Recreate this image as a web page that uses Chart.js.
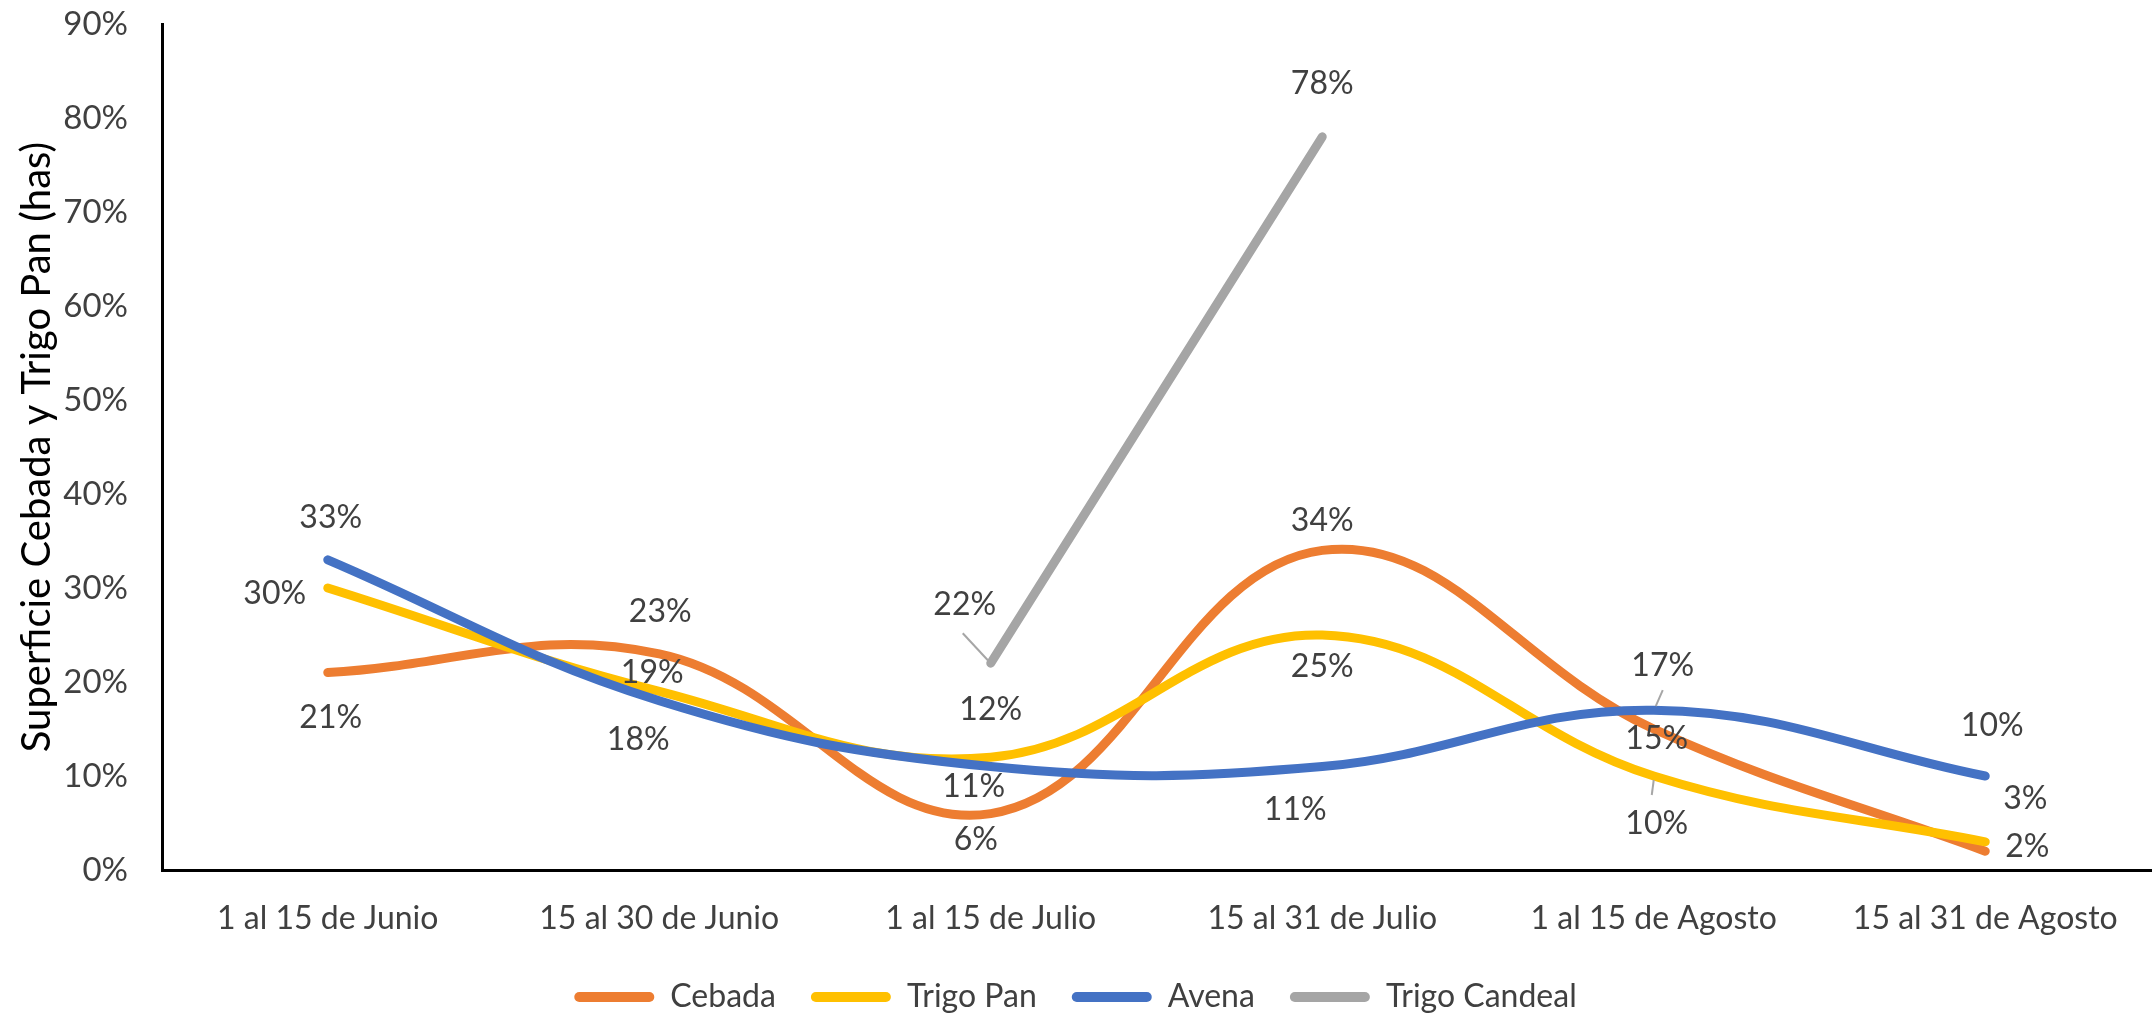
<!DOCTYPE html>
<html>
<head>
<meta charset="utf-8">
<script src="https://cdn.jsdelivr.net/npm/chart.js@4.4.0/dist/chart.umd.min.js"></script>
<style>
  html, body { margin: 0; padding: 0; background: #fff; }
  canvas { display: block; }
</style>
</head>
<body>
<canvas id="chart" width="2153" height="1013"></canvas>
<script>
// ---- data ----
const categories = ['1 al 15 de Junio', '15 al 30 de Junio', '1 al 15 de Julio',
                    '15 al 31 de Julio', '1 al 15 de Agosto', '15 al 31 de Agosto'];
const cebada       = [21, 23, 6, 34, 15, 2];
const trigoPan     = [30, 19, 12, 25, 10, 3];
const avena        = [33, 18, 11, 11, 17, 10];
const trigoCandeal = [null, null, 22, 78, null, null];

// where each value label sits, in px from its point (same order as datasets)
const labelOffsets = [
    [[3, 45], [1, -42], [-15, 26], [0, -30], [3, 10], [42, -5]],
    [[-53, 6], [-7, -19], [0, -48], [0, 32], [3, 48], [40, -43]],
    [[3, -42], [-21, 39], [-17, 20], [-27, 43], [9, -45], [7, -50]],
    [null, null, [-26, -59], [0, -53], null, null]
];
// little leader lines: dataset, index, from dx,dy to dx,dy
const leaderLines = [
    [3, 2, -28, -30, -2, -2],
    [2, 4, 9, -20, 2, -4],
    [1, 4, -2, 19, 0, 4]
];

const FONT = 'Lato';
const TEXT = '#404040';

const valueLabels = {
    id: 'valueLabels',
    afterDatasetsDraw(chart) {
        const ctx = chart.ctx;
        ctx.save();
        ctx.strokeStyle = '#a6a6a6';
        ctx.lineWidth = 2;
        leaderLines.forEach(([ds, i, x0, y0, x1, y1]) => {
            const pt = chart.getDatasetMeta(ds).data[i];
            ctx.beginPath();
            ctx.moveTo(pt.x + x0, pt.y + y0);
            ctx.lineTo(pt.x + x1, pt.y + y1);
            ctx.stroke();
        });
        ctx.font = '32px ' + FONT;
        ctx.fillStyle = TEXT;
        ctx.textAlign = 'center';
        ctx.textBaseline = 'middle';
        chart.data.datasets.forEach((dataset, ds) => {
            const meta = chart.getDatasetMeta(ds);
            dataset.data.forEach((v, i) => {
                if (v === null) return;
                const pt = meta.data[i];
                const off = labelOffsets[ds][i];
                ctx.fillText(v + '%', pt.x + off[0], pt.y + off[1]);
            });
        });
        ctx.restore();
    }
};

function series(label, data, color, order) {
    return {
        label: label,
        data: data,
        borderColor: color,
        backgroundColor: color,
        borderWidth: 9,
        borderCapStyle: 'round',
        borderJoinStyle: 'round',
        pointRadius: 0,
        tension: 0.4,
        fill: false,
        order: order
    };
}

const ctx = document.getElementById('chart').getContext('2d');
new Chart(ctx, {
    type: 'line',
    data: {
        labels: categories,
        datasets: [
            series('Cebada', cebada, '#ED7D31', 4),
            series('Trigo Pan', trigoPan, '#FFC000', 3),
            series('Avena', avena, '#4472C4', 2),
            series('Trigo Candeal', trigoCandeal, '#A5A5A5', 1)
        ]
    },
    plugins: [valueLabels],
    options: {
        responsive: false,
        animation: false,
        layout: { padding: { top: 24, right: 2, bottom: -10, left: 0 } },
        plugins: {
            tooltip: { enabled: false },
            legend: {
                position: 'bottom',
                labels: {
                    font: { family: FONT, size: 32 },
                    color: TEXT,
                    boxWidth: 80,
                    boxHeight: 10,
                    padding: 35,
                    useBorderRadius: true,
                    borderRadius: 5,
                    sort: (a, b) => a.datasetIndex - b.datasetIndex,
                    generateLabels: (chart) => chart.data.datasets.map((d, i) => ({
                        text: d.label,
                        fillStyle: d.borderColor,
                        strokeStyle: d.borderColor,
                        lineWidth: 0,
                        borderRadius: 5,
                        fontColor: TEXT,
                        hidden: false,
                        datasetIndex: i
                    }))
                }
            }
        },
        scales: {
            x: {
                offset: true,
                grid: { display: false, drawTicks: false },
                border: { display: true, color: '#000', width: 3 },
                ticks: { font: { family: FONT, size: 32 }, color: TEXT, padding: 29, maxRotation: 0, autoSkip: false },
                afterFit: (scale) => { scale.height = 76; }
            },
            y: {
                min: 0,
                max: 90,
                grid: { display: false, drawTicks: false },
                border: { display: true, color: '#000', width: 3 },
                ticks: {
                    stepSize: 10,
                    font: { family: FONT, size: 33 },
                    color: TEXT,
                    padding: 34,
                    callback: (v) => v + '%'
                },
                title: {
                    display: true,
                    text: 'Superficie Cebada y Trigo Pan (has)',
                    font: { family: FONT, size: 40 },
                    color: '#000',
                    padding: { top: 13, bottom: 0 }
                },
                afterFit: (scale) => {
                    scale.width = 162;
                    // tick padding should not push the plot down
                    scale.paddingTop = 0;
                    scale.paddingBottom = 0;
                }
            }
        }
    }
});
</script>
</body>
</html>
